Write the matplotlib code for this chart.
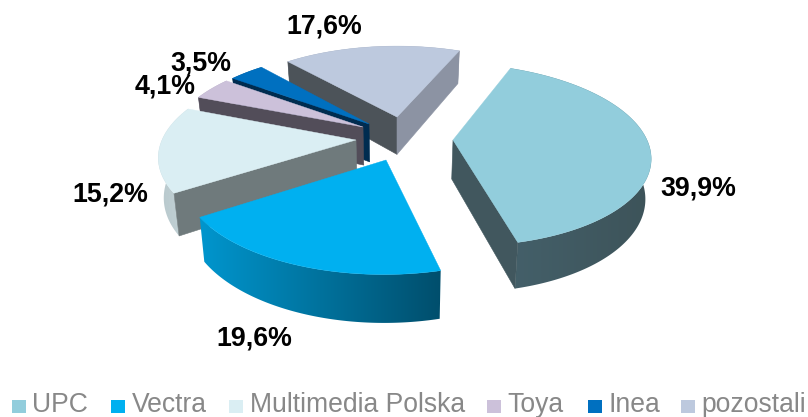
import numpy as np
import matplotlib
matplotlib.use("Agg")
import matplotlib.pyplot as plt
from matplotlib.patches import Polygon, Rectangle
from matplotlib.colors import LinearSegmentedColormap

categories = ["UPC", "Vectra", "Multimedia Polska", "Toya", "Inea", "pozostali"]
values = [39.9, 19.6, 15.2, 4.1, 3.5, 17.6]
value_labels = ["39,9%", "19,6%", "15,2%", "4,1%", "3,5%", "17,6%"]

colors_top = ["#92CDDC", "#00B0F0", "#DAEEF3", "#CCC1DA", "#0070C0", "#BDC9DE"]
face_start = ["#3F5A60", "#3F5A60", "#6F7A7C", "#524D59", "#002C50", "#4C5359"]
face_end = ["#41575E", "#00506E", "#6F7A7C", "#524D59", "#002C50", "#8C93A3"]
rim_left = ["#44606A", "#0096CE", "#B8C8CC", "#A9A0B5", "#00365F", "#8C93A3"]
rim_right = ["#3D5359", "#004E6C", "#C4D4D8", "#A9A0B5", "#00365F", "#8C93A3"]
apex_px = [(453, 140), (386, 160), (356, 140), (363, 127), (369, 124), (397, 117)]
label_pos = [(698, 188), (254, 338), (110, 194), (165, 86), (201, 63), (324, 26)]
legend_x = [12, 111, 229, 487, 588, 681]

START = 22.5
CX, CY, A, B, K, H = 397.0, 140.0, 194.0, 89.0, 0.16, 39.0
SHRINK = 0.977


def project(X, Y, drop=False):
    s = 1.0 / (1.0 + K * Y)
    x = A * X * s
    y = CY - B * Y * s
    if drop:
        return np.column_stack((CX + x * SHRINK, y + H * s))
    return np.column_stack((CX + x, y))


def unproject(px, py):
    v = (CY - py) / B
    Y = v / (1.0 - K * v)
    X = (px - CX) / A * (1.0 + K * Y)
    return X, Y


def cross(a, b):
    return a[0] * b[1] - a[1] * b[0]


fig = plt.figure(figsize=(8.08, 4.17), dpi=100)
ax = fig.add_axes([0, 0, 1, 1])
ax.axis("off")

total = sum(values)
edges = START + np.concatenate(([0], np.cumsum(values))) / total * 360.0

for i in [5, 4, 3, 2, 1, 0]:
    z = 10 + (5 - i) * 3
    t = np.radians(np.linspace(edges[i], edges[i + 1], 181))
    ox, oy = unproject(*apex_px[i])
    rx, ry = ox + np.sin(t), oy + np.cos(t)
    top_rim = project(rx, ry)
    bot_rim = project(rx, ry, True)
    apex_top = project(np.array([ox]), np.array([oy]))
    apex_bot = project(np.array([ox]), np.array([oy]), True)

    # outer rim with a horizontal gradient
    rim_poly = Polygon(np.vstack((top_rim, bot_rim[::-1])), closed=True, fc="none", ec="none",
                       transform=ax.transData)
    ax.add_patch(rim_poly)
    cmap = LinearSegmentedColormap.from_list("rim", [rim_left[i], rim_right[i]])
    xs = np.concatenate((top_rim[:, 0], bot_rim[:, 0]))
    ys = np.concatenate((top_rim[:, 1], bot_rim[:, 1]))
    im = ax.imshow(np.linspace(0, 1, 256).reshape(1, -1), cmap=cmap, aspect="auto",
                   extent=(xs.min() - 1, xs.max() + 1, ys.max() + 1, ys.min() - 1),
                   interpolation="bilinear", zorder=z)
    im.set_clip_path(rim_poly)

    # radial cut faces, only where the viewer can see them
    inner = top_rim[len(t) // 2] - apex_top[0]
    for j, col in ((0, face_start[i]), (-1, face_end[i])):
        e = top_rim[j] - apex_top[0]
        if cross(e, inner) * cross(e, (0, 1)) < 0:
            quad = np.vstack((apex_top, top_rim[j], bot_rim[j], apex_bot))
            ax.add_patch(Polygon(quad, closed=True, fc=col, ec=col, lw=0.4, zorder=z + 1))
    # top face
    ax.add_patch(Polygon(np.vstack((apex_top, top_rim)), closed=True, fc=colors_top[i],
                         ec=colors_top[i], lw=0.3, zorder=z + 2))

ax.set_xlim(0, 808)
ax.set_ylim(417, 0)

for lab, (x, y) in zip(value_labels, label_pos):
    ax.text(x, y, lab, ha="center", va="center", fontsize=19.3, fontweight="bold",
            family="Liberation Sans", color="black", zorder=40)

for name, x, col in zip(categories, legend_x, colors_top):
    ax.add_patch(Rectangle((x, 399.5), 14, 13, fc=col, ec="none", zorder=40))
    ax.text(x + 20.5, 412, name, ha="left", va="baseline", fontsize=19.1, color="#888888",
            family="Liberation Sans", zorder=40)

fig.savefig("out.png", dpi=100)
